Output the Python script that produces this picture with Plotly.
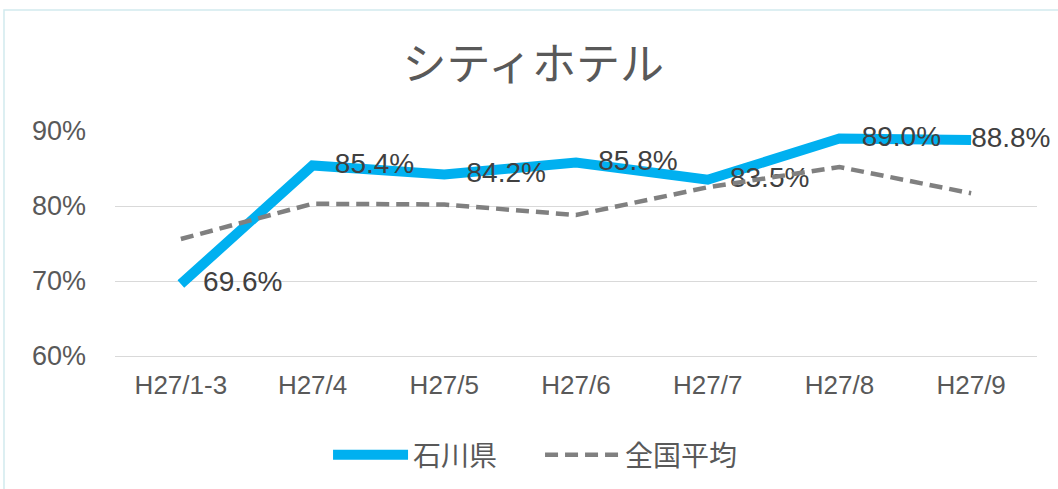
import plotly.graph_objects as go

# --- data ---
months = ["H27/1-3", "H27/4", "H27/5", "H27/6", "H27/7", "H27/8", "H27/9"]
ishikawa = [69.6, 85.4, 84.2, 85.8, 83.5, 89.0, 88.8]
national = [75.6, 80.3, 80.2, 78.8, 82.5, 85.2, 81.7]
y_ticks = [60, 70, 80, 90]
y_tick_labels = ["60%", "70%", "80%", "90%"]

LATIN = "Liberation Sans, Arial, sans-serif"
CJK = "Noto Sans CJK JP, sans-serif"

# invisible markers push the labels off the line; the last label is pulled in to fit
label_pad = [34] * (len(months) - 1) + [0]

fig = go.Figure()

fig.add_trace(go.Scatter(
    x=months, y=ishikawa, name="石川県",
    mode="lines+markers+text",
    line=dict(color="#00B0F0", width=10),
    marker=dict(size=label_pad, color="rgba(0,0,0,0)", opacity=0,
                line=dict(width=0, color="rgba(0,0,0,0)")),
    text=[f"{v:.1f}%" for v in ishikawa],
    textposition="middle right",
    textfont=dict(family=LATIN, size=28, color="#404040"),
    cliponaxis=False,
    hoverinfo="skip",
))

fig.add_trace(go.Scatter(
    x=months, y=national, name="全国平均",
    mode="lines",
    line=dict(color="#808080", width=4.5, dash="13px,7px"),
    hoverinfo="skip",
))

fig.update_layout(
    width=1058, height=489,
    margin=dict(l=115, r=21, t=131, b=133, autoexpand=False),
    paper_bgcolor="white", plot_bgcolor="white",
    title=dict(text="シティホテル", x=0.504, xref="container", xanchor="center",
               y=0.867, yanchor="middle",
               font=dict(family=CJK, size=44, color="#595959")),
    legend=dict(orientation="h", x=0.461, xanchor="center", y=-0.44, yanchor="middle",
                font=dict(family=CJK, size=28, color="#595959"),
                itemwidth=75, entrywidth=122),
    showlegend=True,
    shapes=[dict(type="rect", xref="paper", yref="paper",
                 x0=-0.1204, x1=1.1, y0=-0.8, y1=1.5378,
                 line=dict(color="#d2eaee", width=1.5), layer="below")],
)

fig.update_xaxes(
    type="category", range=[-0.5, len(months) - 0.5],
    showgrid=False, showline=True, linecolor="#d9d9d9",
    tickfont=dict(family=LATIN, size=26, color="#595959"),
    ticks="", ticklabelstandoff=6, automargin=False,
)
fig.update_yaxes(
    range=[60, 90], tickvals=y_ticks, ticktext=y_tick_labels,
    showgrid=True, gridcolor="#d9d9d9", gridwidth=1, zeroline=False,
    tickfont=dict(family=LATIN, size=27, color="#595959"),
    ticks="", ticklabelstandoff=28, automargin=False,
)

# drop the default 8px page margin so the figure sits at the window's corner
fig.write_html("out.html", config={"displayModeBar": False},
               post_script="document.body.style.margin='0';")
